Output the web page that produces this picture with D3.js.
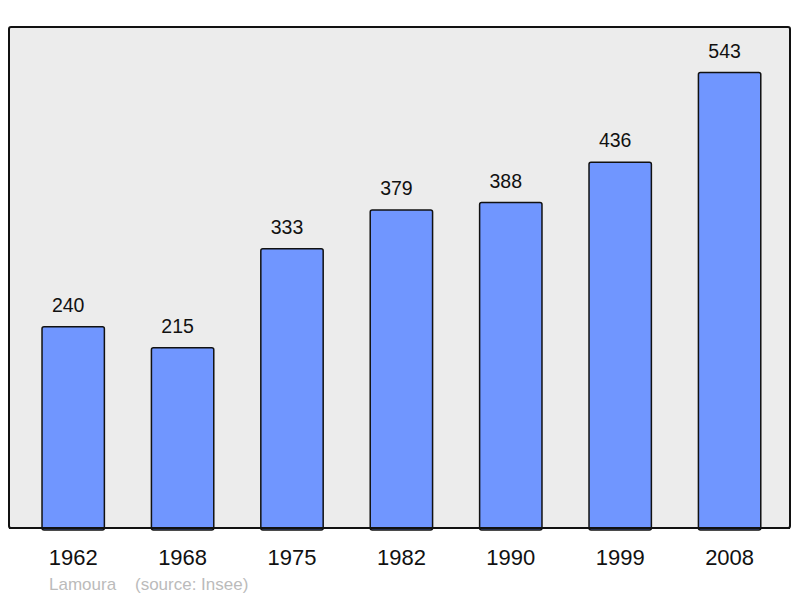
<!DOCTYPE html>
<html><head><meta charset="utf-8">
<script src="https://cdn.jsdelivr.net/npm/d3@7"></script>
<style>html,body{margin:0;padding:0;background:#fff;}svg{display:block;}</style>
</head><body>
<script>
const years = ["1962","1968","1975","1982","1990","1999","2008"];
const population = [240,215,333,379,388,436,543];
const footerName = "Lamoura";
const footerSource = "(source: Insee)";

const W = 800, H = 598;
const svg = d3.select("body").append("svg").attr("width", W).attr("height", H);

const frame = {x0: 9, x1: 790, y0: 27, y1: 528};
svg.append("rect").attr("x", frame.x0).attr("y", frame.y0)
  .attr("width", frame.x1 - frame.x0).attr("height", frame.y1 - frame.y0)
  .attr("rx", 2).attr("fill", "#ececec").attr("stroke", "#111").attr("stroke-width", 2);

const x = d3.scaleBand().domain(years).range([18.5, 784.3]).paddingInner(0.43).paddingOuter(0.215);
const y = d3.scaleLinear().domain([0, 543 * 1.1]).range([frame.y1, frame.y0]);

const g = svg.append("g");
g.selectAll("rect.bar").data(years).join("rect").attr("class","bar")
  .attr("x", d => x(d)).attr("width", x.bandwidth())
  .attr("y", (d,i) => y(population[i])).attr("height", (d,i) => frame.y1 - y(population[i]) + 2)
  .attr("rx", 2)
  .attr("fill", "#7096ff").attr("stroke", "#111").attr("stroke-width", 1.5);

svg.append("line").attr("x1", frame.x0).attr("x2", frame.x1).attr("y1", frame.y1).attr("y2", frame.y1)
  .attr("stroke", "#111").attr("stroke-width", 2);

g.selectAll("text.val").data(years).join("text").attr("class","val")
  .attr("x", d => x(d) + x.bandwidth()/2 - 5)
  .attr("y", (d,i) => y(population[i]) - 15)
  .attr("text-anchor", "middle")
  .attr("font-family", "Liberation Sans, Arial, sans-serif").attr("font-size", 19.5)
  .attr("fill", "#111")
  .text((d,i) => population[i]);

const xAxis = d3.axisBottom(x).tickSize(0).tickPadding(0);
const ax = svg.append("g").attr("transform", `translate(0,${frame.y1})`).call(xAxis);
ax.select(".domain").remove();
ax.selectAll("text").attr("dy", null).attr("y", 36.5)
  .attr("font-family", "Liberation Sans, Arial, sans-serif").attr("font-size", 22).attr("fill", "#111");

svg.append("text").attr("x", 49).attr("y", 590)
  .attr("font-family", "Liberation Sans, Arial, sans-serif").attr("font-size", 17).attr("fill", "#bbbbbb")
  .attr("xml:space", "preserve")
  .text(footerName + "    " + footerSource);
</script>
</body></html>
